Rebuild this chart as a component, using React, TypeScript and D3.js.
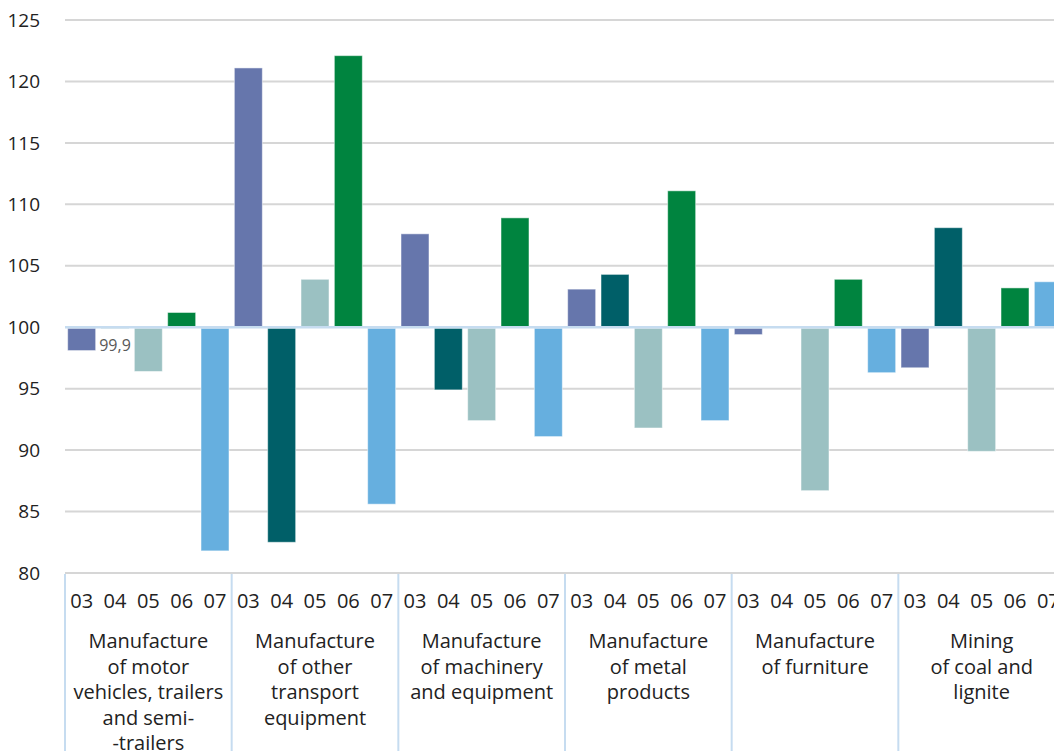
import React from 'react';
import { scaleBand, scaleLinear } from 'd3';

const categories = [
  ['Manufacture', 'of motor', 'vehicles, trailers', 'and semi-', '-trailers'],
  ['Manufacture', 'of other', 'transport', 'equipment'],
  ['Manufacture', 'of machinery', 'and equipment'],
  ['Manufacture', 'of metal', 'products'],
  ['Manufacture', 'of furniture'],
  ['Mining', 'of coal and', 'lignite'],
];
const years = ['03', '04', '05', '06', '07'];

// one array per category, values per year 03..07
const motorVehicles = [98.1, 99.9, 96.4, 101.2, 81.8];
const otherTransport = [121.1, 82.5, 103.9, 122.1, 85.6];
const machinery = [107.6, 94.9, 92.4, 108.9, 91.1];
const metalProducts = [103.1, 104.3, 91.8, 111.1, 92.4];
const furniture = [99.4, 100.0, 86.7, 103.9, 96.3];
const coalLignite = [96.7, 108.1, 89.9, 103.2, 103.7];
const values = [motorVehicles, otherTransport, machinery, metalProducts, furniture, coalLignite];

const yTicks = [80, 85, 90, 95, 100, 105, 110, 115, 120, 125];
const labelled = [{ group: 0, year: 1, text: '99,9' }];

const colors = ['#6676ac', '#005f68', '#9bc1c2', '#00843f', '#66afdf'];

const W = 1054;
const H = 751;
const font = '"Open Sans", sans-serif';

const App: React.FC = () => {
  const y = scaleLinear().domain([80, 125]).range([573, 20]);
  const x0 = scaleBand<number>()
    .domain(categories.map((_, i) => i))
    .range([65, 1065]);
  const x1 = scaleBand<string>()
    .domain(years)
    .range([0, x0.bandwidth()])
    .paddingInner(0.16)
    .paddingOuter(0.08);
  const slot = x0.bandwidth() / years.length;
  const base = y(100);

  return (
    <div style={{ position: 'absolute', left: 0, top: 0 }}>
      <svg width={W} height={H} style={{ display: 'block', background: '#fff' }} fontFamily={font}>
        {/* gridlines */}
        {yTicks.map(t => (
          <g key={t}>
            {t !== 100 && (
              <line x1={65} x2={W} y1={y(t)} y2={y(t)} stroke="#d6d6d6" strokeWidth={2} />
            )}
            <text x={40} y={y(t)} dy="0.35em" textAnchor="end" fontSize={19} fill="#222">
              {t}
            </text>
          </g>
        ))}

        {/* bars */}
        {values.map((vals, gi) => (
          <g key={gi} transform={`translate(${x0(gi)},0)`}>
            {vals.map((v, yi) => {
              const top = v >= 100 ? y(v) : base + 1;
              const h = v >= 100 ? base - y(v) : y(v) - base - 1;
              return (
                <rect
                  key={yi}
                  x={x1(years[yi])}
                  y={top}
                  width={x1.bandwidth()}
                  height={Math.max(0, h)}
                  fill={colors[yi]}
                  stroke="#ffffff"
                  strokeOpacity={0.5}
                  strokeWidth={1}
                />
              );
            })}
          </g>
        ))}

        {/* baseline at 100 */}
        <line x1={65} x2={W} y1={base} y2={base} stroke="#c6dcf0" strokeWidth={2.5} />

        {labelled.map(l => (
          <text
            key={l.text}
            x={(x0(l.group) ?? 0) + (x1(years[l.year]) ?? 0) + x1.bandwidth() / 2}
            y={351}
            textAnchor="middle"
            fontSize={16}
            fill="#595959"
          >
            {l.text}
          </text>
        ))}

        {/* category dividers */}
        {categories.map((_, gi) => (
          <line
            key={gi}
            x1={x0(gi)}
            x2={x0(gi)}
            y1={574}
            y2={H}
            stroke="#c6dcf0"
            strokeWidth={2}
          />
        ))}

        {/* year labels */}
        {categories.map((_, gi) =>
          years.map((yr, yi) => (
            <text
              key={`${gi}-${yr}`}
              x={(x0(gi) ?? 0) + slot * yi + slot / 2}
              y={608}
              textAnchor="middle"
              fontSize={20}
              fill="#222"
            >
              {yr}
            </text>
          ))
        )}

        {/* category labels */}
        {categories.map((lines, gi) => (
          <text
            key={gi}
            x={(x0(gi) ?? 0) + x0.bandwidth() / 2}
            y={648}
            textAnchor="middle"
            fontSize={20}
            fill="#222"
          >
            {lines.map((ln, li) => (
              <tspan key={li} x={(x0(gi) ?? 0) + x0.bandwidth() / 2} dy={li === 0 ? 0 : 25.5}>
                {ln}
              </tspan>
            ))}
          </text>
        ))}
      </svg>
    </div>
  );
};

export default App;
